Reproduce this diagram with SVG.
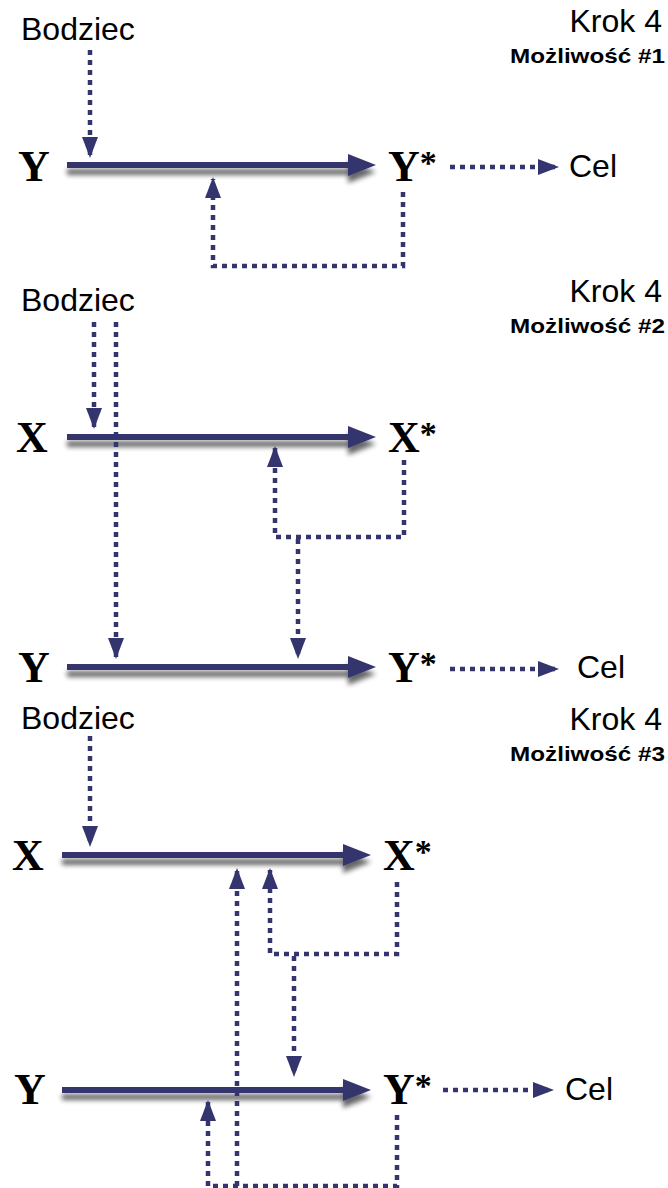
<svg xmlns="http://www.w3.org/2000/svg" width="668" height="1188" viewBox="0 0 668 1188">
  <style>
    .lbl { font-family: "Liberation Sans", Arial, sans-serif; font-size: 32px; fill: #000; }
    .opt { font-family: "Liberation Sans", Arial, sans-serif; font-size: 21px; font-weight: bold; fill: #000; }
    .var { font-family: "Liberation Serif", "Times New Roman", serif; font-size: 44px; font-weight: bold; fill: #000; }
    .star { font-size: 34px; }
    .main { stroke: #34346e; stroke-width: 6; fill: none; }
    .dot { stroke: #34346e; stroke-width: 4.5; stroke-dasharray: 5 5; fill: none; }
  </style>
  <defs>
    <filter id="shadow" x="-10%" y="-100%" width="120%" height="400%">
      <feGaussianBlur in="SourceAlpha" stdDeviation="2.5" result="b"/>
      <feOffset in="b" dx="0" dy="7" result="o"/>
      <feComponentTransfer in="o" result="s">
        <feFuncA type="linear" slope="0.6"/>
      </feComponentTransfer>
      <feMerge>
        <feMergeNode in="s"/>
        <feMergeNode in="SourceGraphic"/>
      </feMerge>
    </filter>
    <marker id="bigHead" markerUnits="userSpaceOnUse" markerWidth="30" markerHeight="24" refX="2" refY="11" orient="auto">
      <path d="M0,0 L28,11 L0,22 z" fill="#34346e"/>
    </marker>
    <marker id="head" markerUnits="userSpaceOnUse" markerWidth="22" markerHeight="18" refX="19" refY="8" orient="auto">
      <path d="M0,0 L21,8 L0,16 z" fill="#34346e"/>
    </marker>
  </defs>

  <!-- Option 1 -->
  <g id="opt1-title">
    <text class="lbl" x="662" y="32" text-anchor="end">Krok 4</text>
    <text class="opt" x="665" y="63" text-anchor="end" textLength="155" lengthAdjust="spacingAndGlyphs">Możliwość #1</text>
  </g>
  <g id="opt1-bodziec"><text class="lbl" x="21" y="40">Bodziec</text></g>
  <g id="opt1-Y"><text class="var" x="18" y="181">Y</text></g>
  <g id="opt1-Ystar"><text class="var" x="388" y="181">Y<tspan class="star" dy="-7">*</tspan></text></g>
  <g id="opt1-cel"><text class="lbl" x="569" y="177">Cel</text></g>

  <!-- Option 2 -->
  <g id="opt2-title">
    <text class="lbl" x="662" y="302" text-anchor="end">Krok 4</text>
    <text class="opt" x="665" y="333" text-anchor="end" textLength="155" lengthAdjust="spacingAndGlyphs">Możliwość #2</text>
  </g>
  <g id="opt2-bodziec"><text class="lbl" x="21" y="311">Bodziec</text></g>
  <g id="opt2-X"><text class="var" x="16" y="452">X</text></g>
  <g id="opt2-Xstar"><text class="var" x="388" y="452">X<tspan class="star" dy="-7">*</tspan></text></g>
  <g id="opt2-Y"><text class="var" x="18" y="682">Y</text></g>
  <g id="opt2-Ystar"><text class="var" x="388" y="682">Y<tspan class="star" dy="-7">*</tspan></text></g>
  <g id="opt2-cel"><text class="lbl" x="577" y="678">Cel</text></g>

  <!-- Option 3 -->
  <g id="opt3-title">
    <text class="lbl" x="662" y="730" text-anchor="end">Krok 4</text>
    <text class="opt" x="665" y="761" text-anchor="end" textLength="155" lengthAdjust="spacingAndGlyphs">Możliwość #3</text>
  </g>
  <g id="opt3-bodziec"><text class="lbl" x="21" y="729">Bodziec</text></g>
  <g id="opt3-X"><text class="var" x="12" y="870">X</text></g>
  <g id="opt3-Xstar"><text class="var" x="383" y="870">X<tspan class="star" dy="-7">*</tspan></text></g>
  <g id="opt3-Y"><text class="var" x="14" y="1104">Y</text></g>
  <g id="opt3-Ystar"><text class="var" x="383" y="1104">Y<tspan class="star" dy="-7">*</tspan></text></g>
  <g id="opt3-cel"><text class="lbl" x="565" y="1100">Cel</text></g>

  <g id="connectors">
    <!-- main reaction arrows -->
    <g filter="url(#shadow)">
      <line class="main" x1="67" y1="165" x2="350" y2="165" marker-end="url(#bigHead)"/>
      <line class="main" x1="67" y1="437" x2="350" y2="437" marker-end="url(#bigHead)"/>
      <line class="main" x1="67" y1="667" x2="350" y2="667" marker-end="url(#bigHead)"/>
      <line class="main" x1="62" y1="855" x2="345" y2="855" marker-end="url(#bigHead)"/>
      <line class="main" x1="62" y1="1090" x2="345" y2="1090" marker-end="url(#bigHead)"/>
    </g>

    <!-- option 1 -->
    <path class="dot" d="M90 50 V156" marker-end="url(#head)"/>
    <path class="dot" d="M403 192 V266 H213 V179" marker-end="url(#head)"/>
    <path class="dot" d="M450 167 H557" marker-end="url(#head)"/>

    <!-- option 2 -->
    <path class="dot" d="M94 322 V427" marker-end="url(#head)"/>
    <path class="dot" d="M116 322 V657" marker-end="url(#head)"/>
    <path class="dot" d="M404 460 V537 H275 V448" marker-end="url(#head)"/>
    <path class="dot" d="M298 539 V657" marker-end="url(#head)"/>
    <path class="dot" d="M450 669 H557" marker-end="url(#head)"/>

    <!-- option 3 -->
    <path class="dot" d="M90 736 V845" marker-end="url(#head)"/>
    <path class="dot" d="M397 882 V954 H270 V870" marker-end="url(#head)"/>
    <path class="dot" d="M294 956 V1075" marker-end="url(#head)"/>
    <path class="dot" d="M397 1115 V1186 H208 V1102" marker-end="url(#head)"/>
    <path class="dot" d="M237 1186 V870" marker-end="url(#head)"/>
    <path class="dot" d="M443 1090 H552" marker-end="url(#head)"/>
  </g>
</svg>
